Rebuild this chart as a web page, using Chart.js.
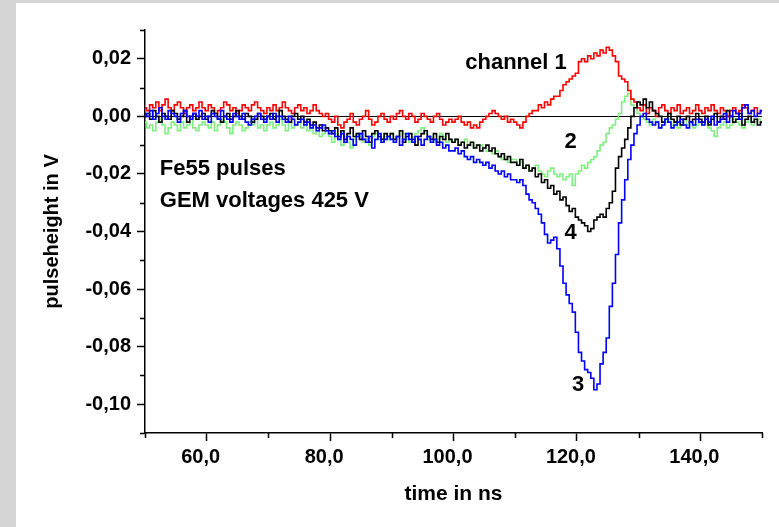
<!DOCTYPE html>
<html>
<head>
<meta charset="utf-8">
<title>Fe55 pulses</title>
<script src="https://cdn.jsdelivr.net/npm/chart.js@4.4.1/dist/chart.umd.min.js"></script>
<style>
  html, body { margin: 0; padding: 0; }
  body { width: 779px; height: 527px; background: #d6d6d6; position: relative; overflow: hidden; }
  #panel { position: absolute; left: 16px; top: 3px; right: 0; bottom: 0; background: #fff; }
  #wrap { position: absolute; left: 0; top: 0; width: 779px; height: 527px; }
</style>
</head>
<body>
<div id="panel"></div>
<div id="wrap"><canvas id="myChart" width="779" height="527"></canvas></div>
<script>
// scope traces, sampled every 0.5 ns from 50 to 150 ns, values in mV
var tStart = 50;
var tStep = 0.5;

var ch1_mV = [
  3, 2, 4, 3, 5, 2, 4, 6, 3, 2, 4, 5, 3, 1, 3, 4, 2, 3, 5, 3,            // 50
  2, 4, 3, 1, 2, 3, 5, 4, 2, 3, 1, 2, 4, 3, 2, 4, 5, 3, 2, 1,            // 60
  3, 2, 4, 2, 3, 5, 3, 2, 1, 3, 4, 2, 3, 1, 2, 4, 2, 1, 0, 1,            // 70
  -1, -2, 0, -3, -4, -2, -1, 1, -2, -3, -1, 0, 2, -1, -3, -2, 0, 1, -1, -2,  // 80
  0, -1, 1, 2, 0, -1, 1, 0, -2, -1, 1, 0, -1, -2, 0, 1, -1, -3, -2, -1,  // 90
  -2, -1, 0, -2, -3, -2, -4, -3, -4, -2, -1, 0, 1, 2, 1, 0, -1, 0, -2, -1,  // 100
  -2, -3, -4, -2, 0, 1, 2, 2, 4, 3, 5, 4, 6, 7, 7, 9, 11, 12, 13, 14,    // 110
  15, 19, 20, 19, 21, 20, 22, 21, 23, 22, 24, 23, 21, 19, 14, 13, 12, 9, 6, 5,  // 120
  3, 2, 4, 1, 3, 2, 0, 3, 4, 2, 1, 3, 2, 4, 1, 2, 3, 1, 2, 4,            // 130
  2, 1, 3, 2, 4, 2, 1, 3, 2, 0, 2, 3, 1, 2, 4, 3, 1, 2, 3, 1,            // 140
  2
];

var ch2_mV = [
  -2, -4, -3, -5, -2, -1, -3, -6, -4, -2, -3, -5, -2, -4, -3, -1, -4, -5, -3, -2,
  -3, -4, -2, -5, -3, -1, -2, -4, -6, -3, -2, -3, -5, -4, -2, -3, -1, -4, -3, -5,
  -3, -2, -4, -3, -1, -3, -5, -2, -4, -3, -2, -4, -3, -5, -4, -6, -5, -7, -6, -5,
  -7, -9, -6, -8, -10, -7, -9, -11, -8, -6, -7, -9, -8, -10, -7, -6, -8, -9, -7, -8,
  -6, -8, -7, -5, -6, -8, -9, -7, -6, -5, -4, -6, -8, -7, -9, -8, -6, -7, -9, -8,
  -9, -8, -10, -9, -8, -10, -9, -11, -10, -10, -11, -12, -12, -13, -12, -14, -15, -14, -16, -15,
  -15, -17, -16, -18, -17, -19, -18, -17, -19, -20, -21, -19, -18, -20, -21, -20, -22, -21, -20, -24,
  -20, -19, -17, -18, -16, -15, -14, -12, -10, -9, -6, -4, -3, -1, 1, 5, 7, 8, 4, 3,
  1, 0, -1, -2, -3, -1, -2, -4, -3, -2, -1, -3, -2, -4, -2, -1, -3, -2, -4, -3,
  -2, -3, -1, -4, -5, -7, -4, -3, -2, -4, -3, -1, -2, -3, -4, -2, -1, -3, -2, -1,
  -2
];

var ch3_mV = [
  1, 0, 2, -1, 1, 3, 0, -1, 2, 1, 0, -2, 1, 2, 0, -1, 1, 0, 2, -1,
  0, -2, 1, 0, -1, 2, 0, -1, -2, 1, 0, -1, 1, -2, -3, -1, 0, 1, -1, -2,
  0, -1, 1, -2, 0, -1, -2, 0, -1, -3, -2, -1, -3, -2, -4, -3, -5, -4, -3, -5,
  -6, -5, -7, -8, -6, -9, -7, -8, -10, -7, -6, -8, -9, -7, -11, -8, -6, -9, -8, -7,
  -8, -9, -7, -10, -8, -6, -8, -9, -7, -8, -10, -8, -7, -9, -8, -10, -9, -11, -10, -12,
  -12, -11, -13, -12, -14, -15, -14, -16, -15, -16, -17, -16, -18, -17, -19, -20, -19, -21, -20, -22,
  -22, -23, -22, -24, -27, -29, -30, -32, -34, -37, -41, -44, -43, -42, -46, -52, -58, -62, -65, -68,
  -75, -82, -85, -88, -89, -91, -95, -93, -86, -82, -77, -66, -58, -48, -37, -29, -22, -15, -10, -6,
  -3, 0, 1, -1, -2, -3, -2, -4, -3, -1, -2, -4, -3, -2, -1, -3, -4, -2, -3, -1,
  -2, -3, -1, -2, 0, -3, -2, -1, 1, -2, 0, 2, 1, -1, 3, 4, 1, 2, 0, 1,
  2
];

var ch4_mV = [
  0, 1, -1, 2, 0, -2, 1, 0, -1, 2, 1, -1, 0, 2, -2, 0, 1, -1, 0, 1,
  -1, 0, 2, 1, -1, -2, 0, 1, -1, 0, 2, 0, -1, 1, 0, -2, -1, 1, 0, -1,
  0, 1, -1, 0, 2, 0, -1, -2, 0, 1, -1, 0, -2, -1, -3, -2, -4, -3, -5, -4,
  -5, -6, -4, -7, -5, -8, -6, -4, -7, -6, -8, -5, -7, -9, -6, -5, -7, -8, -6, -7,
  -6, -8, -7, -5, -9, -7, -6, -8, -10, -7, -6, -5, -7, -8, -6, -9, -7, -8, -6, -8,
  -9, -8, -10, -9, -11, -10, -9, -11, -10, -12, -11, -10, -12, -11, -13, -14, -13, -15, -14, -16,
  -16, -17, -15, -18, -17, -19, -18, -21, -20, -23, -22, -25, -24, -27, -26, -29, -28, -31, -33, -32,
  -35, -36, -37, -38, -40, -39, -36, -35, -34, -35, -32, -30, -26, -18, -14, -11, -8, -4, 0, 3,
  5, 4, 6, 3, 5, 2, 1, 0, -2, -1, 1, -1, -2, 0, -3, -1, 0, -2, -1, 1,
  -1, -2, 0, -3, -1, 1, -2, 0, -1, 2, 0, -2, -1, 1, -3, -1, 0, -2, -1, -3,
  -2
];

var xTicks = [60, 80, 100, 120, 140];
var xMinor = [50, 70, 90, 110, 130, 150];
var yTicks = [-0.10, -0.08, -0.06, -0.04, -0.02, 0, 0.02];
var yMinor = [-0.11, -0.09, -0.07, -0.05, -0.03, -0.01, 0.01, 0.03];

// text written inside the plot, placed in data units
var notes = [
  { text: 'channel 1', x: 101.9, y: 0.0184, align: 'left' },
  { text: '2', x: 119.0, y: -0.009, align: 'center' },
  { text: '4', x: 119.0, y: -0.0405, align: 'center' },
  { text: '3', x: 120.2, y: -0.0932, align: 'center' },
  { text: 'Fe55 pulses', x: 52.4, y: -0.0181, align: 'left' },
  { text: 'GEM voltages 425 V', x: 52.4, y: -0.0294, align: 'left' }
];

function toPoints(arr) {
  var pts = [];
  for (var i = 0; i < arr.length; i++) {
    pts.push({ x: tStart + i * tStep, y: arr[i] / 1000 });
  }
  return pts;
}

function trace(label, arr, color) {
  return {
    label: label,
    data: toPoints(arr),
    borderColor: color,
    borderWidth: 1.6,
    pointRadius: 0,
    stepped: 'middle',
    fill: false
  };
}

var FONT = "'Liberation Sans', Arial, Helvetica, sans-serif";
Chart.defaults.font.family = FONT;

var minorTicks = {
  id: 'minorTicks',
  afterDraw: function (chart) {
    var c = chart.ctx, x = chart.scales.x, y = chart.scales.y;
    c.save();
    c.strokeStyle = '#000';
    c.lineWidth = 1.5;
    c.beginPath();
    xMinor.forEach(function (v) {
      var px = Math.round(x.getPixelForValue(v)) + 0.5;
      c.moveTo(px, x.top);
      c.lineTo(px, x.top + 5);
    });
    yMinor.forEach(function (v) {
      var py = Math.round(y.getPixelForValue(v)) + 0.5;
      c.moveTo(y.right - 5, py);
      c.lineTo(y.right, py);
    });
    c.stroke();
    c.restore();
  }
};

var plotNotes = {
  id: 'plotNotes',
  afterDatasetsDraw: function (chart) {
    var c = chart.ctx, x = chart.scales.x, y = chart.scales.y;
    c.save();
    c.fillStyle = '#000';
    c.font = 'bold 22px ' + FONT;
    c.textBaseline = 'middle';
    notes.forEach(function (n) {
      c.textAlign = n.align;
      c.fillText(n.text, x.getPixelForValue(n.x), y.getPixelForValue(n.y));
    });
    c.restore();
  }
};

const ctx = document.getElementById('myChart');

var myChart = new Chart(ctx, {
  type: 'line',
  data: {
    datasets: [
      trace('channel 3', ch3_mV, '#0000ff'),
      trace('channel 4', ch4_mV, '#000000'),
      trace('channel 1', ch1_mV, '#ff0000'),
      trace('channel 2', ch2_mV, '#80ef80')
    ]
  },
  options: {
    responsive: false,
    animation: false,
    parsing: false,
    layout: { padding: { top: 30, right: 17, left: 0, bottom: 0 } },
    plugins: {
      legend: { display: false },
      tooltip: { enabled: false }
    },
    scales: {
      x: {
        type: 'linear',
        min: 50,
        max: 150,
        afterBuildTicks: function (s) { s.ticks = xTicks.map(function (v) { return { value: v }; }); },
        afterFit: function (s) { s.height = 94; },
        border: { color: '#000', width: 1.5 },
        grid: { drawOnChartArea: false, tickLength: 8, tickColor: '#000', tickWidth: 1.5 },
        ticks: {
          color: '#000',
          font: { size: 20, weight: 'bold' },
          padding: 4,
          maxRotation: 0,
          autoSkip: false,
          labelOffset: -6,
          callback: function (v) { return v.toFixed(1).replace('.', ','); }
        },
        title: {
          display: true,
          text: 'time in ns',
          color: '#000',
          font: { size: 21, weight: 'bold' },
          padding: { top: 0, bottom: 20 }
        }
      },
      y: {
        type: 'linear',
        min: -0.11,
        max: 0.03,
        afterBuildTicks: function (s) { s.ticks = yTicks.map(function (v) { return { value: v }; }); },
        afterFit: function (s) { s.width = 145; },
        border: { color: '#000', width: 1.5 },
        grid: {
          // only the zero line is drawn across the plot
          color: function (c) { return c.tick && c.tick.value === 0 ? '#000' : 'rgba(0,0,0,0)'; },
          lineWidth: 1,
          tickLength: 8,
          tickColor: '#000',
          tickWidth: 1.5
        },
        ticks: {
          color: '#000',
          font: { size: 20, weight: 'bold' },
          padding: 6,
          callback: function (v) { return v.toFixed(2).replace('.', ','); }
        },
        title: {
          display: true,
          text: 'pulseheight in V',
          color: '#000',
          font: { size: 20, weight: 'bold' },
          padding: { top: 40, bottom: 0 }
        }
      }
    }
  },
  plugins: [minorTicks, plotNotes]
});
</script>
</body>
</html>
